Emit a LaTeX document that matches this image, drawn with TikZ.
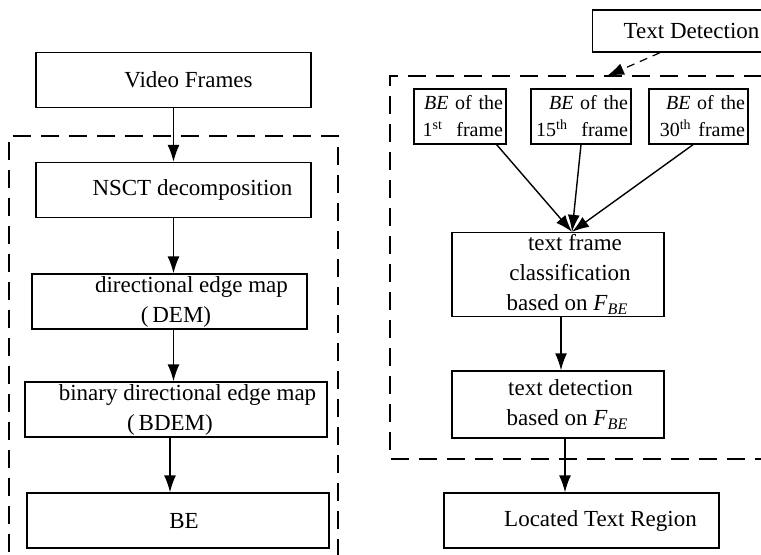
\documentclass[tikz,border=0pt]{standalone}
\usepackage{fontspec}
\setmainfont{Liberation Serif}
\usetikzlibrary{arrows.meta,positioning}

\tikzset{
  box/.style={draw, line width=0.7pt, minimum height=27.5pt, align=center, inner sep=1pt,
    font=\fontsize{11.5}{15}\selectfont},
  bebox/.style={draw, line width=0.7pt, minimum height=27.5pt, align=right, inner xsep=1.5pt,
    font=\fontsize{10}{13.5}\selectfont},
  frame/.style={line width=1.4pt, dash pattern=on 9pt off 5pt},
  >={Latex[length=8.5pt,width=6pt]},
}
\newcommand{\fbe}{\textit{F}\textsubscript{\textit{BE}}}

\begin{document}
\begin{tikzpicture}[x=0.5pt,y=-0.5pt]
  \useasboundingbox (0,0) rectangle (761,554);

  % dashed frames
  \draw[frame] (9,580) -- (9,136) -- (338,136) -- (338,580);
  \draw[frame] (790,76) -- (390,76) -- (390,459) -- (790,459);

  % left column
  \node[box, minimum width=137.5pt] (vf) at (173.5,80) {\hspace*{15pt}Video Frames};
  \node[box, minimum width=137.5pt] (nsct) at (173.5,190) {\hspace*{19pt}NSCT decomposition};
  \node[box, minimum width=137.5pt] (dem) at (169.5,301.5)
    {\hspace*{22pt}directional edge map\\\hspace*{6.5pt}(\,DEM)};
  \node[box, minimum width=151pt] (bdem) at (176,409.5)
    {\hspace*{11.5pt}binary directional edge map\\\hspace*{-6pt}(\,BDEM)};
  \node[box, minimum width=151pt] (be) at (178,520.5) {\hspace*{6pt}BE};

  \draw[->, line width=0.7pt] (vf) -- (nsct);
  \draw[->, line width=0.7pt] (nsct.south) -- ([xshift=2pt]dem.north);
  \draw[->, line width=0.7pt] ([xshift=2pt]dem.south) -- ([xshift=-1.25pt]bdem.north);
  \draw[->, line width=0.7pt] ([xshift=-3pt]bdem.south) -- ([xshift=-4pt]be.north);

  % right column
  \node[box, anchor=west, minimum height=21pt, inner xsep=15.5pt] (tdet) at (592,31) {Text Detection};
  \coordinate (ftop) at (607,76);
  \draw[->, line width=0.6pt, dash pattern=on 4pt off 3pt] ([xshift=34pt]tdet.south west) -- (ftop);

  \node[bebox, text width=43pt] (be1) at (460,116.5) {\textit{BE} of the\\1\textsuperscript{st}\ \ frame};
  \node[bebox, text width=47pt] (be15) at (581,116.5) {\textit{BE} of the\\15\textsuperscript{th}\ \ frame};
  \node[bebox, text width=46.5pt] (be30) at (698.5,116.5) {\textit{BE} of the\\30\textsuperscript{th} frame};

  \node[box, minimum width=106pt, minimum height=41.5pt] (cls) at (558,274.5)
    {\hspace*{17pt}text frame\\\hspace*{12pt}classification\\\hspace*{9.5pt}based on \fbe};
  \node[box, minimum width=106pt, minimum height=33.5pt] (det) at (558,404.5)
    {\hspace*{12.5pt}text detection\\\hspace*{9.5pt}based on \fbe};
  \node[box, minimum width=137.5pt] (loc) at (581.5,520.5) {\hspace*{19pt}Located Text Region};

  \coordinate (meet) at ([xshift=7pt]cls.north);
  \draw[->, line width=0.7pt] ([xshift=-5pt]be1.south east) -- (meet);
  \draw[->, line width=0.7pt] (be15.south) -- (meet);
  \draw[->, line width=0.7pt] ([xshift=-2.75pt]be30.south) -- (meet);
  \draw[->, line width=0.7pt] ([xshift=1.5pt]cls.south) -- ([xshift=1.5pt]det.north);
  \draw[->, line width=0.7pt] ([xshift=3.5pt]det.south) -- ([xshift=-8.25pt]loc.north);
\end{tikzpicture}
\end{document}
